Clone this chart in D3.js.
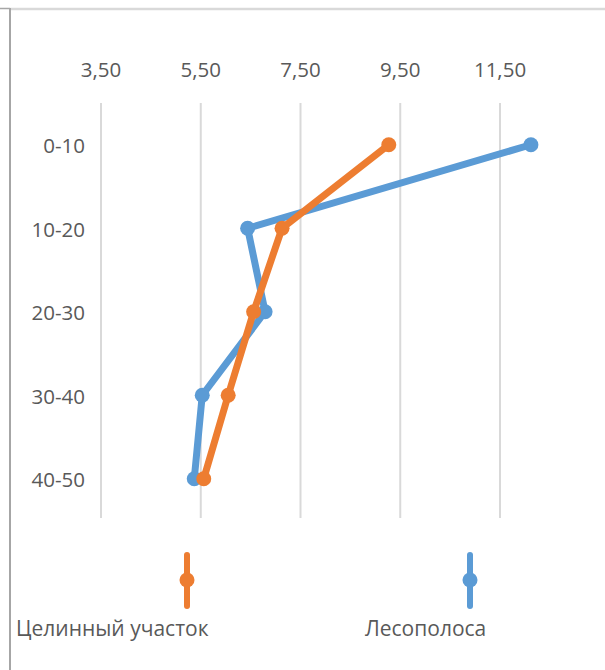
<!DOCTYPE html>
<html>
<head>
<meta charset="utf-8">
<script src="https://cdn.jsdelivr.net/npm/d3@7"></script>
<style>
  html, body { margin: 0; padding: 0; background: #fff; }
  svg { display: block; }
  text { font-family: "Open Sans", "Noto Sans", sans-serif; fill: #595959; }
</style>
</head>
<body>
<svg id="chart" width="605" height="670"></svg>
<script>
// Depth layers (cm)
const depths = ["0-10", "10-20", "20-30", "30-40", "40-50"];
// Series values per layer
const virginValues = [9.28, 7.14, 6.57, 6.06, 5.57];   // Целинный участок
const beltValues   = [12.13, 6.45, 6.80, 5.54, 5.38];  // Лесополоса
// Axis ticks
const xTicks = [3.5, 5.5, 7.5, 9.5, 11.5];
const seriesNames = ["Целинный участок", "Лесополоса"];

const colors = { virgin: "#ED7D31", belt: "#5B9BD5" };
const svg = d3.select("#chart");

// Frame
svg.append("line").attr("x1", 0).attr("x2", 10).attr("y1", 8.5).attr("y2", 8.5)
  .attr("stroke", "#a6a6a6").attr("stroke-width", 1.5);
svg.append("line").attr("x1", 10).attr("x2", 605).attr("y1", 9).attr("y2", 9)
  .attr("stroke", "#d9d9d9").attr("stroke-width", 2.5);
svg.append("line").attr("x1", 10).attr("x2", 10).attr("y1", 8).attr("y2", 670)
  .attr("stroke", "#a6a6a6").attr("stroke-width", 2);

const x = d3.scaleLinear().domain([3.5, 11.5]).range([100.5, 499.5]);
const y = d3.scalePoint().domain(depths).range([103, 520.5]).padding(0.5);

const ru = d3.formatLocale({ decimal: ",", thousands: " ", grouping: [3], currency: ["", ""] });
const fmt = ru.format(".2f");

// Vertical gridlines
svg.append("g")
  .attr("transform", "translate(0,518)")
  .call(d3.axisBottom(x).tickValues(xTicks).tickSize(-415).tickFormat(""))
  .call(g => g.select(".domain").remove())
  .call(g => g.selectAll(".tick line").attr("stroke", "#d9d9d9").attr("stroke-width", 2));

// Top value axis labels
svg.append("g")
  .attr("transform", "translate(0,80)")
  .call(d3.axisTop(x).tickValues(xTicks).tickSize(0).tickPadding(3).tickFormat(fmt))
  .call(g => g.select(".domain").remove())
  .call(g => g.selectAll("text").attr("font-size", 20.5).attr("fill", "#595959")
    .style("font-family", "'Open Sans', sans-serif"));

// Depth labels
svg.append("g")
  .attr("transform", "translate(88,0)")
  .call(d3.axisLeft(y).tickSize(0).tickPadding(3))
  .call(g => g.select(".domain").remove())
  .call(g => g.selectAll("text").attr("font-size", 20.5).attr("fill", "#595959")
    .attr("dy", "0.4em")
    .style("font-family", "'Open Sans', sans-serif"));

const line = d3.line().x(d => x(d.v)).y(d => y(d.k));

function drawSeries(values, color) {
  const data = depths.map((k, i) => ({ k, v: values[i] }));
  const g = svg.append("g");
  g.append("path").datum(data)
    .attr("d", line)
    .attr("fill", "none")
    .attr("stroke", color)
    .attr("stroke-width", 7)
    .attr("stroke-linejoin", "round")
    .attr("stroke-linecap", "round");
  g.selectAll("circle").data(data).join("circle")
    .attr("cx", d => x(d.v)).attr("cy", d => y(d.k))
    .attr("r", 7.5)
    .attr("fill", color);
}
drawSeries(beltValues, colors.belt);
drawSeries(virginValues, colors.virgin);

// Legend
const legend = [
  { name: seriesNames[0], color: colors.virgin, mx: 187, tx: 16 },
  { name: seriesNames[1], color: colors.belt, mx: 470, tx: 365 }
];
const lg = svg.append("g");
legend.forEach(d => {
  lg.append("line").attr("x1", d.mx).attr("x2", d.mx).attr("y1", 555).attr("y2", 606)
    .attr("stroke", d.color).attr("stroke-width", 6).attr("stroke-linecap", "round");
  lg.append("circle").attr("cx", d.mx).attr("cy", 580).attr("r", 7.5).attr("fill", d.color);
  lg.append("text").attr("x", d.tx).attr("y", 636).attr("font-size", 21).text(d.name);
});
</script>
</body>
</html>
